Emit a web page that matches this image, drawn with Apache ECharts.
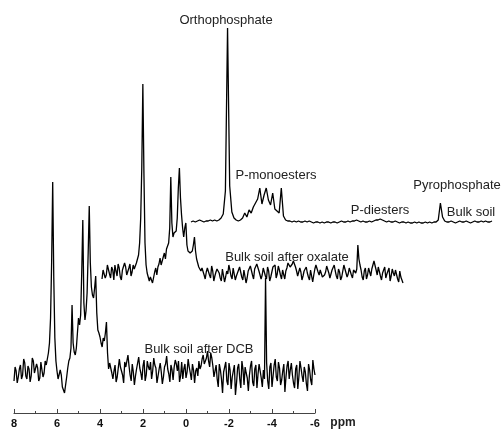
<!DOCTYPE html>
<html>
<head>
<meta charset="utf-8">
<script src="https://cdn.jsdelivr.net/npm/echarts@6/dist/echarts.min.js"></script>
<style>
  html, body { margin: 0; padding: 0; background: #fff; }
  #nmr_chart { width: 501px; height: 429px; }
</style>
</head>
<body>
<div id="nmr_chart"></div>
<script>
// every trace is sampled from 8 ppm downwards
const ppmStart = 8
// sampling step (ppm) of the bulk soil trace and of the two noisy traces
const bulkStep = 0.1
const noisyStep = 0.05

// axis ticks (ppm)
const xTicks = [8, 6, 4, 2, 0, -2, -4, -6]

// intensities, relative to each trace's baseline
const bulkSoil = [
  -1, 0, -1, 0, 1, 0, -1, 0, 0, 1, 0, 1, 0, 1,
  3, 7, 30, 193, 35, 9, 3, 1, 0, 1, 3, 8, 4, 11, 8, 14, 18, 22, 33, 17, 26, 33, 21, 16, 28, 12, 10, 8, 33, 5, 1, 0,
  0, -1, 0, -1, 0, -1, -1, 0, -1, 0, -1, -2, -1, -1, -2, -1, -2, -1, -1, -2,
  -1, -1, -2, -1, 0, -1, -1, 0, -1, 0, 0, 1, 0, -1, 0, -1, -1, 0, -1, 0,
  1, 1, 2, 1, 0, -1, 0, -1, -1, 0, -1, -2, -1, -1, -2, -1, -2, -2, -1, -2,
  -1, -2, -2, -1, -2, -1, -2, -1, -1, 1, 18, 4, 0, -1, -1, 0, -1, -2, -1, 0,
  -1, -1, 0, -1, -2, -1, 0, -1, -1, 0, -1, 0, -1, -1, 0
]

const afterOxalate = [
  -6, 3, 4, -5, -2, 8, 7, -1, -5, 6, 3, -7, 8, 2, -3, 9, 5, -4, -7, 3, 2, 10, 6, -2, -4, 5, 9, -3, 1, 8, 4,
  6, 10, 8, 18, 30, 55, 105, 189, 100, 30, 8, 0, 2, -8, -4, -2, -10, -9, 1, 5, -2, 6, 9, 15, 8, 12, 16, 20, 14, 24,
  22, 30, 45, 96, 50, 36, 40, 38, 42, 55, 85, 105, 75, 58, 45, 36, 45, 50, 28, 22, 24, 20, 18, 22, 28, 36, 22, 14, 10, 6,
  5, 2,
  5, 3, -2, -6, 1, 5, 7, -2, -5, 7, 2, -8, -3, 1, 4, 6, 0, -5, -8, 4,
  6, -9, -4, 2, -1, 8, 3, -3, -6, 5, 7, -7, -3, 0, 3, 6, 8, -4, -7, 3,
  1, -10, -5, 2, 4, 7, 9, -2, -6, 4, 6, 9, 10, 2, 4, -6, -2, 5, 1, -3,
  -6, 6, 2, -8, -4, 1, 6, 4, 8, -5, -1, 7, 3, -2, -6, 3, 1, -6, 2, 5,
  10, 8, 6, 4, 9, 12, 10, 6, 2, -3, -5, 5, 1, -7, -3, 2, 4, 6, 0, -4,
  -7, 3, 5, -9, -2, 4, 8, 7, 1, -2, 3, 5, -4, -6, -2, 1, 7, 6, 0, -5,
  -7, 3, 5, 8, 2, -3, -6, 4, 1, -7, -4, 2, 8, 6, 0, -4, -1, 5, 3, -2,
  -5, 3, 2, 0, 4, 28, 14, 8, 3, -4, -7, 2, 5, -6, -2, 5, 1, -3, 4, 6,
  12, 10, 3, -2, 6, 4, -3, -7, 0, 3, 6, -5, -1, 2, 5, -8, -3, 4, 0, -3,
  3, 1, -6, -9, 2, -4, -7, -10
]

const afterDcb = [
  -8, 6, 2, -10, -4, 4, 8, -6, -2, 14, 10, -3, -6, 7, 4, -9, -3, 15, 12, 0, -1, 9, 5, -8, -5, 11, 3, -4, 0, 12, 8, 14,
  20, 30, 55, 110, 191, 95, 35, 12, 2, -6, -8, 3, -2, -14, -12, -20, -18, -4, 5, 12, 15, 25, 68, 30, 21, 18, 25, 40, 55, 48, 58,
  100, 153, 70, 53, 62, 80, 120, 167, 110, 86, 78, 75, 85, 97, 60, 43, 40, 36, 30, 26, 35, 32, 40, 51, 20, 4, 10, 12, 0, -6,
  2, 8, -9, -4, 5, 14, 6, 2, -2, -10, 11, 6, 4, 18, 7, -2, -8, 9, 1, -12,
  -3, 4, 10, 16, 5, 0, -7, 7, 13, -8, -2, 12, 6, 3, 11, -6, 2, 15, 8, 5,
  -10, -3, 4, 10, 1, -11, -4, 6, 9, 17, 4, -1, -9, 8, 3, -7, 6, 13, 9, 2,
  12, -9, -3, 11, -6, 4, 9, -5, 1, 14, 6, 0, -7, 9, 3, -10, 2, 5, -3, 12,
  4, 7, 14, 18, 9, 10, 15, 22, 12, 6, 20, 15, 7, -4, 2, 8, -6, -14, 9, 3,
  -6, -20, 1, 6, 11, -8, -12, 10, 3, -16, -4, 2, 8, -22, -10, 5, 9, -6, -15, 12,
  4, -12, 6, 0, -5, -18, -2, 7, 12, -9, -13, 4, 8, -15, -1, 9, 2, -5, -14, 3,
  -6, 95, 10, -8, -16, 6, 10, -14, -3, 8, 14, -4, -8, 11, 5, -12, -7, 2, 9, -19,
  -4, 7, 12, -6, 3, 10, -2, -10, -15, 4, 8, -16, -4, 12, 5, -3, -9, 6, 1, -11,
  -18, 9, 3, -7, -12, 13, 4, -2
]

const labelFont = '13px "Liberation Sans", Arial, sans-serif'
const textColor = '#222'

function toPoints(values, step) {
  return values.map((v, i) => [ppmStart - i * step, v])
}

function hiddenX(idx) {
  return {gridIndex: idx, type: 'value', inverse: true, min: -6, max: 8, show: false}
}

function hiddenY(idx) {
  return {gridIndex: idx, type: 'value', min: -20, max: 200, show: false}
}

function trace(values, step, idx) {
  return {
    type: 'line',
    xAxisIndex: idx,
    yAxisIndex: idx,
    data: toPoints(values, step),
    showSymbol: false,
    clip: false,
    silent: true,
    lineStyle: {color: '#000', width: 1.3}
  }
}

function label(text, x, y, font) {
  return {
    type: 'text',
    x: x,
    y: y,
    silent: true,
    style: {
      text: text,
      font: font || labelFont,
      fill: textColor,
      textAlign: 'center',
      textVerticalAlign: 'middle',
      align: 'center',
      verticalAlign: 'middle'
    }
  }
}

let chartDom = document.getElementById('nmr_chart')
let myChart = echarts.init(chartDom, null, {renderer: 'canvas'})

let option = {
  animation: false,
  backgroundColor: '#fff',
  grid: [
    // after DCB (bottom), carries the visible axis
    {left: 14, width: 301, bottom: 36, height: 220},
    // after oxalate
    {left: 102, width: 301, bottom: 136, height: 220},
    // bulk soil (top)
    {left: 191, width: 301, bottom: 188, height: 220}
  ],
  xAxis: [
    {
      gridIndex: 0,
      type: 'value',
      inverse: true,
      position: 'bottom',
      min: xTicks[xTicks.length - 1],
      max: xTicks[0],
      interval: 2,
      offset: 20,
      splitLine: {show: false},
      axisLine: {onZero: false, lineStyle: {color: '#444', width: 1.2}},
      axisTick: {inside: true, length: 4, lineStyle: {color: '#444'}},
      minorTick: {show: true, splitNumber: 2, length: 2, lineStyle: {color: '#444'}},
      axisLabel: {
        margin: 5,
        color: '#111',
        fontWeight: 'bold',
        fontSize: 11,
        fontFamily: '"Liberation Sans", Arial, sans-serif'
      }
    },
    hiddenX(1),
    hiddenX(2)
  ],
  yAxis: [hiddenY(0), hiddenY(1), hiddenY(2)],
  series: [
    trace(afterDcb, noisyStep, 0),
    trace(afterOxalate, noisyStep, 1),
    trace(bulkSoil, bulkStep, 2)
  ],
  graphic: [
    label('Orthophosphate', 226, 20),
    label('P-monoesters', 276, 175),
    label('P-diesters', 380, 210),
    label('Pyrophosphate', 457, 185),
    label('Bulk soil', 471, 212),
    label('Bulk soil after oxalate', 287, 257),
    label('Bulk soil after DCB', 199, 349),
    label('ppm', 343, 423, 'bold 12px "Liberation Sans", Arial, sans-serif')
  ]
}

window.onresize = myChart.resize

option && myChart.setOption(option)
</script>
</body>
</html>
